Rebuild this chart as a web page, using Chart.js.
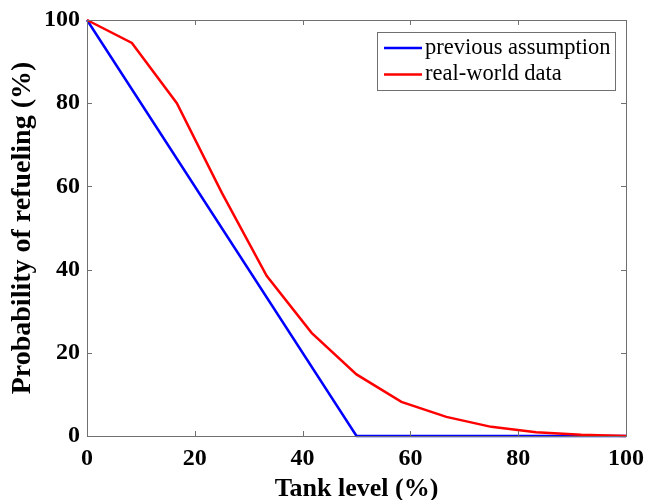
<!DOCTYPE html>
<html>
<head>
<meta charset="utf-8">
<script src="https://cdn.jsdelivr.net/npm/chart.js@4/dist/chart.umd.min.js"></script>
<style>
  html, body { margin: 0; padding: 0; background: #fff; }
  #wrap { width: 645px; height: 500px; }
</style>
</head>
<body>
<div id="wrap"><canvas id="refuelChart"></canvas></div>
<script>
// tank level (%) at which the curves were sampled
const prevLevel = [0, 50, 100];
const prevProb  = [100, 0, 0];

const realLevel = [0, 8.33, 16.67, 25, 33.33, 41.67, 50, 58.33, 66.67, 75, 83.33, 91.67, 100];
const realProb  = [100, 94.5, 80, 58.5, 38.5, 24.8, 14.8, 8.2, 4.6, 2.2, 0.9, 0.3, 0];

const seriesLabels = ['previous assumption', 'real-world data'];
const xTitle = 'Tank level (%)';
const yTitle = 'Probability of refueling (%)';

const toPoints = (xs, ys) => xs.map((x, i) => ({ x, y: ys[i] }));
const SERIF = '"Liberation Serif", "DejaVu Serif", serif';
const AXIS_COLOR = '#707070';

// MATLAB-like box with inward ticks on all four sides
const boxAxes = {
    id: 'boxAxes',
    afterDatasetsDraw(chart) {
        const { ctx, chartArea: a, scales: { x, y } } = chart;
        const len = 5;
        ctx.save();
        ctx.strokeStyle = AXIS_COLOR;
        ctx.lineWidth = 1;
        ctx.beginPath();
        x.ticks.forEach(t => {
            const px = Math.round(x.getPixelForValue(t.value)) + 0.5;
            ctx.moveTo(px, a.bottom); ctx.lineTo(px, a.bottom - len);
            ctx.moveTo(px, a.top);    ctx.lineTo(px, a.top + len);
        });
        y.ticks.forEach(t => {
            const py = Math.round(y.getPixelForValue(t.value)) + 0.5;
            ctx.moveTo(a.left, py);  ctx.lineTo(a.left + len, py);
            ctx.moveTo(a.right, py); ctx.lineTo(a.right - len, py);
        });
        ctx.stroke();
        ctx.strokeRect(Math.round(a.left) + 0.5, Math.round(a.top) + 0.5,
                       Math.round(a.right - a.left), Math.round(a.bottom - a.top));
        ctx.restore();
    }
};

// boxed legend in the upper right of the plot area
const boxLegend = {
    id: 'boxLegend',
    afterDraw(chart) {
        const { ctx, chartArea: a } = chart;
        const w = 238, h = 58;
        const left = a.right - 11 - w, top = a.top + 12;
        ctx.save();
        ctx.fillStyle = '#fff';
        ctx.fillRect(left, top, w, h);
        ctx.strokeStyle = AXIS_COLOR;
        ctx.lineWidth = 1;
        ctx.strokeRect(Math.round(left) + 0.5, Math.round(top) + 0.5, w, h);
        ctx.font = '22.5px ' + SERIF;
        ctx.textBaseline = 'middle';
        chart.data.datasets.forEach((ds, i) => {
            const cy = top + 16 + i * 26.5;
            ctx.strokeStyle = ds.borderColor;
            ctx.lineWidth = 2.5;
            ctx.beginPath();
            ctx.moveTo(left + 7, cy); ctx.lineTo(left + 45, cy);
            ctx.stroke();
            ctx.fillStyle = '#000';
            ctx.fillText(ds.label, left + 48, cy);
        });
        ctx.restore();
    }
};

new Chart(document.getElementById('refuelChart'), {
    type: 'line',
    data: {
        datasets: [
            { label: seriesLabels[0], data: toPoints(prevLevel, prevProb), borderColor: '#0000ff', borderWidth: 2.5, pointRadius: 0, tension: 0, clip: 4, order: 1 },
            { label: seriesLabels[1], data: toPoints(realLevel, realProb), borderColor: '#ff0000', borderWidth: 2.5, pointRadius: 0, tension: 0, clip: 4, order: 0 },
        ],
    },
    options: {
        animation: false, responsive: true, maintainAspectRatio: false,
        layout: { padding: { top: 20, right: 19, left: 0, bottom: 0 } },
        plugins: { legend: { display: false }, tooltip: { enabled: false } },
        scales: {
            x: {
                type: 'linear', min: 0, max: 100,
                ticks: { stepSize: 20, color: '#000', padding: 8, maxRotation: 0, font: { family: SERIF, size: 24, weight: 'bold' } },
                grid: { drawOnChartArea: false, drawTicks: false },
                border: { display: false },
                title: { display: true, text: xTitle, color: '#000', padding: { top: 0, bottom: 0 }, font: { family: SERIF, size: 26, weight: 'bold', lineHeight: 0.8 } },
                afterFit: s => { s.height = 64; s.paddingLeft = 0; s.paddingRight = 0; },
            },
            y: {
                min: 0, max: 100,
                ticks: { stepSize: 20, color: '#000', padding: 7, font: { family: SERIF, size: 24, weight: 'bold' } },
                grid: { drawOnChartArea: false, drawTicks: false },
                border: { display: false },
                title: { display: true, text: yTitle, color: '#000', padding: { top: 9, bottom: 0 }, font: { family: SERIF, size: 28, weight: 'bold', lineHeight: 1 } },
                afterFit: s => { s.width = 87; s.paddingTop = 0; s.paddingBottom = 0; },
            },
        },
    },
    plugins: [boxAxes, boxLegend],
});
</script>
</body>
</html>
